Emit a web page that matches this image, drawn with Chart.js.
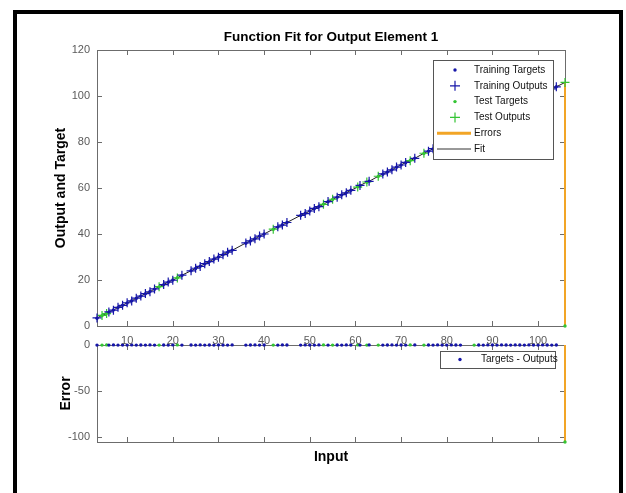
<!DOCTYPE html>
<html lang="en">
<head>
  <meta charset="UTF-8">
  <title>Function Fit for Output Element 1</title>
  <style>
    body { margin: 0; background: #fff; overflow: hidden; }
    #frame { position: absolute; left: 13px; top: 10px; width: 602px; height: 520px; border: 4px solid #000; }
    canvas { position: absolute; left: 0; }
    #fitChart { top: 0; z-index: 2; }
    #errChart { top: 330px; z-index: 1; }
  </style>
  <script src="https://cdn.jsdelivr.net/npm/chart.js"></script>
</head>
<body>
  <div id="frame"></div>
  <canvas id="fitChart" width="626" height="360"></canvas>
  <canvas id="errChart" width="626" height="163"></canvas>

  <script>
    // values
    const trainInputs  = [3.4, 6, 7, 8, 9, 10, 11, 12, 13, 14, 15, 16, 18, 19, 20, 22, 24, 25, 26, 27, 28, 29, 30, 31, 32, 33, 36, 37, 38, 39, 40, 43, 44, 45, 48, 49, 50, 51, 52, 54, 56, 57, 58, 59, 61, 63, 66, 67, 68, 69, 70, 71, 73, 76, 77, 78, 79, 80, 81, 82, 83, 87, 88, 89, 90, 91, 92, 93, 94, 95, 96, 97, 98, 99, 100, 101, 102, 103, 104];
    const trainTargets = [3.4, 6, 7, 8, 9, 10, 11, 12, 13, 14, 15, 16, 18, 19, 20, 22, 24, 25, 26, 27, 28, 29, 30, 31, 32, 33, 36, 37, 38, 39, 40, 43, 44, 45, 48, 49, 50, 51, 52, 54, 56, 57, 58, 59, 61, 63, 66, 67, 68, 69, 70, 71, 73, 76, 77, 78, 79, 80, 81, 82, 83, 87, 88, 89, 90, 91, 92, 93, 94, 95, 96, 97, 98, 99, 100, 101, 102, 103, 104];
    const trainOutputs = [3.5, 6.1, 6.9, 8.1, 9.0, 10.1, 10.9, 12.1, 13.0, 14.1, 14.9, 16.1, 18.0, 19.1, 19.9, 22.1, 24.0, 25.1, 25.9, 27.1, 28.0, 29.1, 29.9, 31.0, 32.1, 32.9, 36.1, 37.0, 37.9, 39.1, 40.0, 43.1, 43.9, 45.0, 48.1, 48.9, 50.0, 51.1, 51.9, 54.1, 56.0, 57.1, 57.9, 59.0, 61.1, 62.9, 66.1, 67.0, 67.9, 69.1, 70.0, 71.1, 72.9, 76.0, 77.1, 77.9, 79.0, 80.1, 80.9, 82.0, 83.1, 87.0, 88.1, 88.9, 90.0, 91.1, 91.9, 93.0, 94.1, 94.9, 96.0, 97.1, 97.9, 99.0, 100.1, 100.9, 102.0, 103.1, 104.0];

    const testInputs  = [4.5, 5.5, 17, 21, 42, 53, 55, 60.5, 62.5, 65, 72, 75, 86, 105.9];
    const testTargets = [4.5, 5.5, 17, 21, 42, 53, 55, 60.5, 62.5, 65, 72, 75, 86, 0];
    const testOutputs = [4.6, 5.4, 17.1, 20.9, 42.1, 52.9, 55.1, 60.4, 62.6, 65.1, 71.9, 75.1, 86.1, 105.9];

    const xTicks    = [10, 20, 30, 40, 50, 60, 70, 80, 90, 100];
    const fitYTicks = [0, 20, 40, 60, 80, 100, 120];
    const errYTicks = [-100, -50, 0];

    const BLUE = '#1616a8', GREEN = '#33c433', ORANGE = '#f2a526', AXIS = '#6c6c6c', TICKTXT = '#5a5a5a';
    const FONT = '"Liberation Sans", Arial, Helvetica, sans-serif';
    Chart.defaults.font.family = FONT;

    function pts(xs, ys) { return xs.map((x, i) => ({ x: x, y: ys[i] })); }
    function bars(xs, from, to) {
      const d = [];
      xs.forEach((x, i) => { d.push({ x: x, y: from[i] }, { x: x, y: to[i] }, { x: x, y: null }); });
      return d;
    }
    const zeros = n => new Array(n).fill(0);

    const trainErrors = trainTargets.map((t, i) => t - trainOutputs[i]);
    const testErrors  = testTargets.map((t, i) => t - testOutputs[i]);
    const allInputs = trainInputs.concat(testInputs);
    const fitLine = pts(allInputs, trainOutputs.concat(testOutputs)).sort((a, b) => a.x - b.x);

    // box + inward ticks on all four sides, like matlab axes
    const matlabAxes = {
      id: 'matlabAxes',
      beforeDatasetsDraw(chart) {
        const { ctx, chartArea: a, scales } = chart;
        ctx.save();
        ctx.strokeStyle = AXIS;
        ctx.lineWidth = 1;
        ctx.strokeRect(a.left + 0.5, a.top + 0.5, a.width, a.height);
        ctx.beginPath();
        scales.x.ticks.forEach(t => {
          const px = Math.round(scales.x.getPixelForValue(t.value)) + 0.5;
          ctx.moveTo(px, a.bottom); ctx.lineTo(px, a.bottom - 5);
          ctx.moveTo(px, a.top); ctx.lineTo(px, a.top + 5);
        });
        scales.y.ticks.forEach(t => {
          const py = Math.round(scales.y.getPixelForValue(t.value)) + 0.5;
          ctx.moveTo(a.left, py); ctx.lineTo(a.left + 5, py);
          ctx.moveTo(a.right, py); ctx.lineTo(a.right - 5, py);
        });
        ctx.stroke();
        ctx.restore();
      }
    };

    // legend box drawn inside the axes
    const boxLegend = {
      id: 'boxLegend',
      afterDraw(chart, args, opts) {
        const { ctx, chartArea: a } = chart;
        const left = a.right - opts.right - opts.width, top = a.top + opts.top;
        ctx.save();
        ctx.fillStyle = '#fff';
        ctx.fillRect(left, top, opts.width, opts.height);
        ctx.strokeStyle = '#555';
        ctx.lineWidth = 1;
        ctx.strokeRect(left + 0.5, top + 0.5, opts.width, opts.height);
        ctx.font = '10px ' + FONT;
        ctx.textBaseline = 'middle';
        opts.items.forEach((it, i) => {
          const cy = top + opts.first + i * opts.step;
          const mx = left + opts.markX;
          ctx.strokeStyle = it.color;
          ctx.fillStyle = it.color;
          if (it.kind === 'dot') {
            ctx.beginPath(); ctx.arc(mx, cy, 1.7, 0, Math.PI * 2); ctx.fill();
          } else if (it.kind === 'cross') {
            ctx.lineWidth = 1.2;
            ctx.beginPath();
            ctx.moveTo(mx - 5, cy); ctx.lineTo(mx + 5, cy);
            ctx.moveTo(mx, cy - 5); ctx.lineTo(mx, cy + 5);
            ctx.stroke();
          } else {
            ctx.lineWidth = it.width;
            ctx.beginPath(); ctx.moveTo(left + 4, cy); ctx.lineTo(left + 38, cy); ctx.stroke();
          }
          ctx.fillStyle = '#111';
          ctx.fillText(it.label, left + opts.textX, cy);
        });
        ctx.restore();
      }
    };

    function xScale(showLabels, title) {
      return {
        type: 'linear', min: 3.4, max: 105.9,
        afterBuildTicks: s => { s.ticks = xTicks.map(v => ({ value: v })); },
        afterFit: s => { s.height = showLabels ? 34 : 51; },
        grid: { display: false, drawTicks: false }, border: { display: false },
        ticks: { display: showLabels, padding: 8, color: TICKTXT, font: { size: 11 } },
        title: title
      };
    }
    function yScale(min, max, ticks, label, pad) {
      return {
        type: 'linear', min: min, max: max,
        afterBuildTicks: s => { s.ticks = ticks.map(v => ({ value: v })); },
        afterFit: s => { s.width = 97; },
        grid: { display: false, drawTicks: false }, border: { display: false },
        ticks: { padding: 7, color: TICKTXT, font: { size: 11 } },
        title: { display: true, text: label, color: '#000', font: { size: 14, weight: 'bold' }, padding: { top: pad, bottom: 0 } }
      };
    }

    new Chart(document.getElementById('fitChart'), {
      type: 'scatter',
      data: {
        datasets: [
          { label: 'Training Outputs', data: pts(trainInputs, trainOutputs), pointStyle: 'cross', pointRadius: 4.5, borderColor: BLUE, borderWidth: 1.2, clip: false },
          { label: 'Test Outputs', data: pts(testInputs, testOutputs), pointStyle: 'cross', pointRadius: 4.5, borderColor: GREEN, borderWidth: 1.2, clip: false },
          { label: 'Training Targets', data: pts(trainInputs, trainTargets), pointRadius: 1.7, backgroundColor: BLUE, borderWidth: 0, clip: false },
          { label: 'Test Targets', data: pts(testInputs, testTargets), pointRadius: 1.7, backgroundColor: GREEN, borderWidth: 0, clip: false },
          { label: 'Errors', data: bars(trainInputs.concat(testInputs), trainTargets.concat(testTargets), trainOutputs.concat(testOutputs)), showLine: true, spanGaps: false, pointRadius: 0, borderColor: ORANGE, borderWidth: 2, clip: false },
          { label: 'Fit', data: fitLine, showLine: true, pointRadius: 0, borderColor: '#222', borderWidth: 1 }
        ]
      },
      options: {
        responsive: false, animation: false, events: [],
        layout: { padding: { top: 0, right: 61, left: 0, bottom: 0 } },
        scales: {
          x: xScale(true, { display: false }),
          y: yScale(0, 120, fitYTicks, 'Output and Target', 52.6)
        },
        plugins: {
          legend: { display: false },
          tooltip: { enabled: false },
          title: { display: true, fullSize: false, text: 'Function Fit for Output Element 1', color: '#000', font: { size: 13.5, weight: 'bold' }, padding: { top: 29, bottom: 4.8 } },
          boxLegend: {
            right: 12, top: 10, width: 120, height: 99, first: 10, step: 15.8, markX: 22, textX: 41,
            items: [
              { label: 'Training Targets', kind: 'dot', color: BLUE },
              { label: 'Training Outputs', kind: 'cross', color: BLUE },
              { label: 'Test Targets', kind: 'dot', color: GREEN },
              { label: 'Test Outputs', kind: 'cross', color: GREEN },
              { label: 'Errors', kind: 'line', color: ORANGE, width: 3 },
              { label: 'Fit', kind: 'line', color: '#333', width: 1 }
            ]
          }
        }
      },
      plugins: [matlabAxes, boxLegend]
    });

    new Chart(document.getElementById('errChart'), {
      type: 'scatter',
      data: {
        datasets: [
          { label: 'Training Errors', data: pts(trainInputs, trainErrors), pointRadius: 1.7, backgroundColor: BLUE, borderWidth: 0, clip: false },
          { label: 'Test Errors', data: pts(testInputs, testErrors), pointRadius: 1.7, backgroundColor: GREEN, borderWidth: 0, clip: false },
          { label: 'Errors', data: bars(allInputs, zeros(allInputs.length), trainErrors.concat(testErrors)), showLine: true, spanGaps: false, pointRadius: 0, borderColor: ORANGE, borderWidth: 2, clip: false }
        ]
      },
      options: {
        responsive: false, animation: false, events: [],
        layout: { padding: { top: 15, right: 61, left: 0, bottom: 0 } },
        scales: {
          x: xScale(false, { display: true, text: 'Input', color: '#000', font: { size: 14, weight: 'bold' }, padding: { top: 0, bottom: 27.6 } }),
          y: yScale(-105.9, 0, errYTicks, 'Error', 57.6)
        },
        plugins: {
          legend: { display: false },
          tooltip: { enabled: false },
          boxLegend: {
            right: 10, top: 6, width: 115, height: 17, first: 8.5, step: 0, markX: 20, textX: 41,
            items: [ { label: 'Targets - Outputs', kind: 'dot', color: BLUE } ]
          }
        }
      },
      plugins: [matlabAxes, boxLegend]
    });
  </script>
</body>
</html>
